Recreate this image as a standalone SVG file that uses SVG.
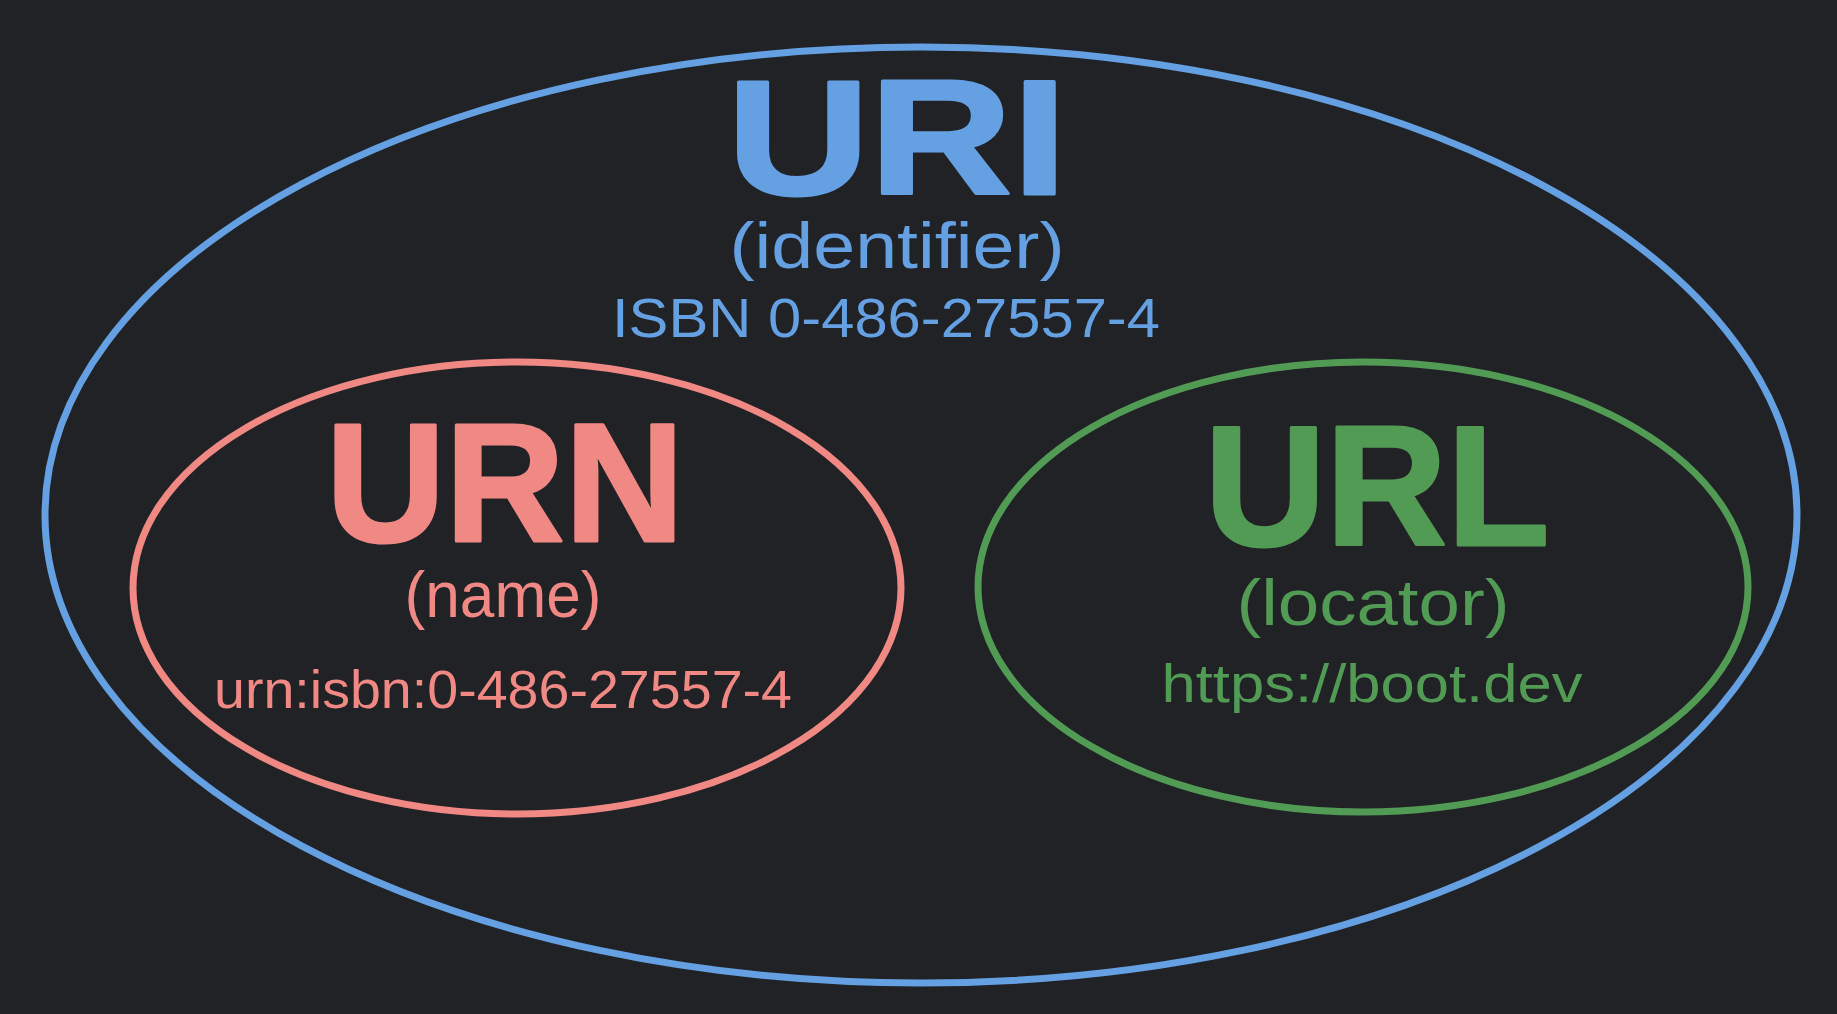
<svg xmlns="http://www.w3.org/2000/svg" width="1837" height="1014" viewBox="0 0 1837 1014">
  <style>
    .ring { fill: none; stroke-width: 7; stroke-linecap: round; }
    .title { font-family: "Liberation Sans", Arial, sans-serif; font-weight: bold; text-anchor: middle; stroke-width: 3; stroke-linejoin: round; }
    .sub { font-family: "Liberation Sans", Arial, sans-serif; text-anchor: middle; }
    .blue { stroke: #64a0e2; }
    .red { stroke: #f08884; }
    .green { stroke: #529b54; }
    .tblue { fill: #64a0e2; }
    .tred { fill: #f08884; }
    .tgreen { fill: #529b54; }
  </style>
  <rect width="1837" height="1014" fill="#212226"/>

  <g id="uri">
    <ellipse class="ring blue" cx="921" cy="515" rx="876" ry="468"/>
    <text class="title tblue blue" x="897" y="194" font-size="164" textLength="340" lengthAdjust="spacingAndGlyphs">URI</text>
    <text class="sub tblue" x="897" y="268" font-size="64" textLength="335" lengthAdjust="spacingAndGlyphs">(identifier)</text>
    <text class="sub tblue" x="886" y="337" font-size="56" textLength="548" lengthAdjust="spacingAndGlyphs">ISBN 0-486-27557-4</text>
  </g>

  <g id="urn">
    <ellipse class="ring red" cx="517" cy="588" rx="384" ry="226"/>
    <text class="title tred red" x="505" y="541" font-size="168" textLength="358" lengthAdjust="spacingAndGlyphs">URN</text>
    <text class="sub tred" x="503" y="617" font-size="64" textLength="197" lengthAdjust="spacingAndGlyphs">(name)</text>
    <text class="sub tred" x="503" y="708" font-size="54" textLength="578" lengthAdjust="spacingAndGlyphs">urn:isbn:0-486-27557-4</text>
  </g>

  <g id="url">
    <ellipse class="ring green" cx="1363" cy="587" rx="385" ry="225"/>
    <text class="title tgreen green" x="1377" y="545" font-size="170" textLength="345" lengthAdjust="spacingAndGlyphs">URL</text>
    <text class="sub tgreen" x="1373" y="625" font-size="64" textLength="273" lengthAdjust="spacingAndGlyphs">(locator)</text>
    <text class="sub tgreen" x="1372" y="702" font-size="54" textLength="421" lengthAdjust="spacingAndGlyphs">https://boot.dev</text>
  </g>

  <g id="connectors"/>
</svg>
